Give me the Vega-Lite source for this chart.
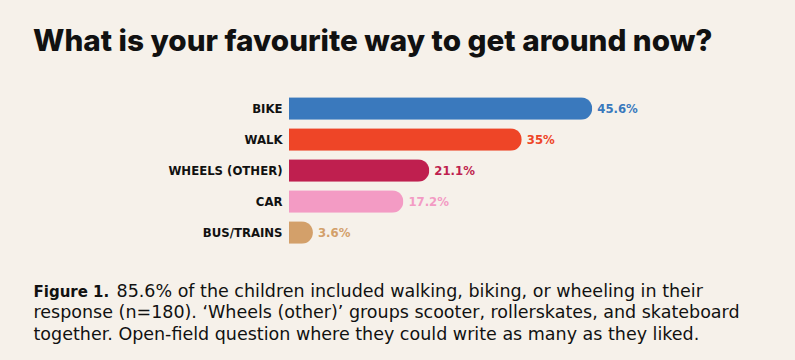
{
  "$schema": "https://vega.github.io/schema/vega-lite/v6.json",
  "autosize": {"type": "none"},
  "padding": {"left": 289, "top": 93, "right": 107, "bottom": 112},
  "width": 399,
  "height": 155,
  "background": "#f6f1ea",
  "title": {
    "text": "What is your favourite way to get around now?",
    "anchor": "start",
    "frame": "group",
    "dx": -256,
    "offset": 35,
    "font": "Inter",
    "fontSize": 29.7,
    "fontWeight": 800,
    "color": "#111111"
  },
  "data": {
    "values": [
      {"mode": "BIKE", "pct": 45.6, "label": "45.6%"},
      {"mode": "WALK", "pct": 35, "label": "35%"},
      {"mode": "WHEELS (OTHER)", "pct": 21.1, "label": "21.1%"},
      {"mode": "CAR", "pct": 17.2, "label": "17.2%"},
      {"mode": "BUS/TRAINS", "pct": 3.6, "label": "3.6%"}
    ]
  },
  "encoding": {
    "x": {
      "field": "pct",
      "type": "quantitative",
      "scale": {"domain": [0, 60]},
      "axis": {
        "title": ["response (n=180). \u2018Wheels (other)\u2019 groups scooter, rollerskates, and skateboard", "together. Open-field question where they could write as many as they liked."],
        "titleX": -256,
        "titleY": 69.5,
        "titleAlign": "left",
        "titleAnchor": null,
        "titleBaseline": "alphabetic",
        "titleFont": "DejaVu Sans",
        "titleFontSize": 17.5,
        "titleFontWeight": 400,
        "titleColor": "#111111",
        "titleLineHeight": 21.5,
        "labels": false,
        "ticks": false,
        "domain": false,
        "grid": false
      }
    },
    "color": {
      "field": "mode",
      "type": "nominal",
      "scale": {
        "domain": ["BIKE", "WALK", "WHEELS (OTHER)", "CAR", "BUS/TRAINS"],
        "range": ["#3a79bd", "#ee4527", "#bf1f4f", "#f39bc4", "#d3a06a"]
      },
      "legend": null
    }
  },
  "layer": [
    {
      "mark": {"type": "bar", "cornerRadiusEnd": 11.5},
      "encoding": {
        "y": {
          "field": "mode",
          "type": "nominal",
          "sort": null,
          "scale": {"paddingInner": 0.27, "paddingOuter": 0.135},
          "axis": {
            "orient": "left",
            "title": "Figure 1.",
            "titleAngle": 0,
            "titleX": -256,
            "titleY": 203,
            "titleAlign": "left",
            "titleBaseline": "alphabetic",
            "titleFont": "DejaVu Sans",
            "titleFontSize": 15,
            "titleFontWeight": 700,
            "titleColor": "#111111",
            "ticks": false,
            "domain": false,
            "labelPadding": 7,
            "labelFont": "DejaVu Sans Condensed",
            "labelFontSize": 13,
            "labelFontWeight": "bold",
            "labelColor": "#111111"
          }
        }
      }
    },
    {
      "mark": {"type": "text", "align": "left", "dx": 5, "font": "DejaVu Sans Condensed", "fontSize": 13, "fontWeight": "bold"},
      "encoding": {
        "y": {
          "field": "mode",
          "type": "nominal",
          "sort": null,
          "axis": {
            "orient": "right",
            "title": "85.6% of the children included walking, biking, or wheeling in their",
            "titleAngle": 0,
            "titleX": -572,
            "titleY": 203,
            "titleAlign": "left",
            "titleBaseline": "alphabetic",
            "titleFont": "DejaVu Sans",
            "titleFontSize": 17.5,
            "titleFontWeight": 400,
            "titleColor": "#111111",
            "labels": false,
            "ticks": false,
            "domain": false
          }
        },
        "text": {"field": "label"}
      }
    }
  ],
  "config": {"view": {"stroke": null}}
}
